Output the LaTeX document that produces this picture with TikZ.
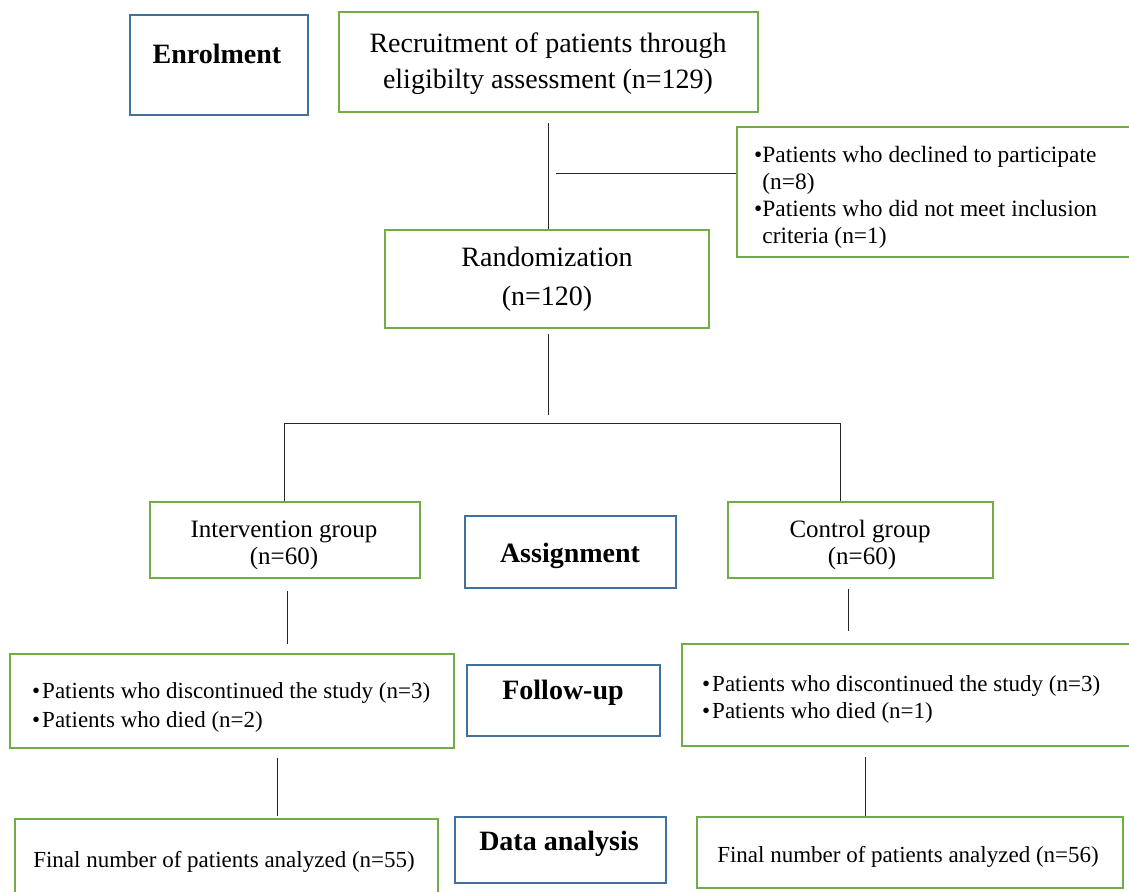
\documentclass[tikz,border=0pt]{standalone}
\usepackage{fontspec}
\setmainfont{Liberation Serif}
\definecolor{gr}{HTML}{70AD47}
\definecolor{bl}{HTML}{41719C}
\newcommand{\mybul}{\textbullet\hspace{2pt}}
\begin{document}
\begin{tikzpicture}[x=1pt,y=-1pt,
  gbox/.style={draw=gr,line width=2pt,rectangle,inner sep=0pt},
  bbox/.style={draw=bl,line width=2pt,rectangle,inner sep=0pt},
  lab/.style={inner sep=0pt,font=\bfseries\fontsize{28}{32}\selectfont},
  big/.style={inner sep=0pt,align=center},
  lst/.style={inner sep=0pt,align=left,anchor=west},
  conn/.style={draw=black!85,line width=1pt}]
\useasboundingbox (0,0) rectangle (1129,891);
% boxes
\node[bbox,minimum width=178pt,minimum height=100pt] (enrol) at (219,65) {};
\node[gbox,minimum width=419pt,minimum height=100pt] (rec) at (548.5,62) {};
\node[gbox,minimum width=398pt,minimum height=130pt] (excl) at (936,192) {};
\node[gbox,minimum width=324pt,minimum height=98pt] (rand) at (547,279) {};
\node[gbox,minimum width=270pt,minimum height=76pt] (intv) at (285,540) {};
\node[bbox,minimum width=211pt,minimum height=72pt] (assign) at (570.5,552) {};
\node[gbox,minimum width=265pt,minimum height=76pt] (ctrl) at (860.5,540) {};
\node[gbox,minimum width=444pt,minimum height=94pt] (fuL) at (232,701) {};
\node[bbox,minimum width=193pt,minimum height=71pt] (fulab) at (563.5,700.5) {};
\node[gbox,minimum width=458pt,minimum height=102pt] (fuR) at (911,695) {};
\node[gbox,minimum width=423pt,minimum height=81pt] (finL) at (226.5,859.5) {};
\node[bbox,minimum width=211pt,minimum height=66pt] (dalab) at (560.5,850) {};
\node[gbox,minimum width=426pt,minimum height=71pt] (finR) at (910,852.5) {};
% texts
\node[lab] (enrolT) at (217,54) {Enrolment};
\node[lab] (assignT) at (570,556) {Assignment};
\node[lab] (fulabT) at (563,693) {Follow-up};
\node[lab] (dalabT) at (559,844) {Data analysis};
\node[big,font=\fontsize{28}{36}\selectfont] (recT) at (548,64) {Recruitment of patients through\\eligibilty assessment (n=129)};
\node[big,font=\fontsize{28}{39}\selectfont] (randT) at (547,279) {Randomization\\(n=120)};
\node[big,font=\fontsize{25}{27}\selectfont] (intvT) at (284,545) {Intervention group\\(n=60)};
\node[big,font=\fontsize{25}{27}\selectfont] (ctrlT) at (860,545) {Control group\\\hspace*{4pt}(n=60)};
\node[lst,font=\fontsize{23.4}{27}\selectfont] (exclT) at (754,197) {\textbullet Patients who declined to participate\\\phantom{\textbullet}(n=8)\\\textbullet Patients who did not meet inclusion\\\phantom{\textbullet}criteria (n=1)};
\node[lst,font=\fontsize{23}{29}\selectfont] (fuLT) at (32,707) {\mybul Patients who discontinued the study (n=3)\\\mybul Patients who died (n=2)};
\node[lst,font=\fontsize{23}{27}\selectfont] (fuRT) at (702,699) {\mybul Patients who discontinued the study (n=3)\\\mybul Patients who died (n=1)};
\node[big,font=\fontsize{23}{27}\selectfont] (finLT) at (224,862) {Final number of patients analyzed (n=55)};
\node[big,font=\fontsize{23}{27}\selectfont] (finRT) at (908,857) {Final number of patients analyzed (n=56)};
% connectors
\coordinate (vA) at (548,123);
\coordinate (exA) at (556,173);
\coordinate (split) at (548,423);
\coordinate (splitL) at (284,423);
\coordinate (splitR) at (840,423);
\coordinate (cI) at (287,600);
\coordinate (cC) at (848,600);
\coordinate (cL) at (277,780);
\coordinate (cR) at (865,780);
\draw[conn] (vA) -- (vA |- rand.north);
\draw[conn] (exA) -- (exA -| excl.west);
\draw[conn,shorten <=5pt,shorten >=8pt] (split |- rand.south) -- (split);
\draw[conn] (splitL |- intv.north) -- (splitL) -- (splitR) -- (splitR |- ctrl.north);
\draw[conn,shorten <=12pt,shorten >=9pt] (cI |- intv.south) -- (cI |- fuL.north);
\draw[conn,shorten <=10pt,shorten >=12pt] (cC |- ctrl.south) -- (cC |- fuR.north);
\draw[conn,shorten <=9pt,shorten >=2pt] (cL |- fuL.south) -- (cL |- finL.north);
\draw[conn,shorten <=10pt] (cR |- fuR.south) -- (cR |- finR.north);
\end{tikzpicture}
\end{document}
